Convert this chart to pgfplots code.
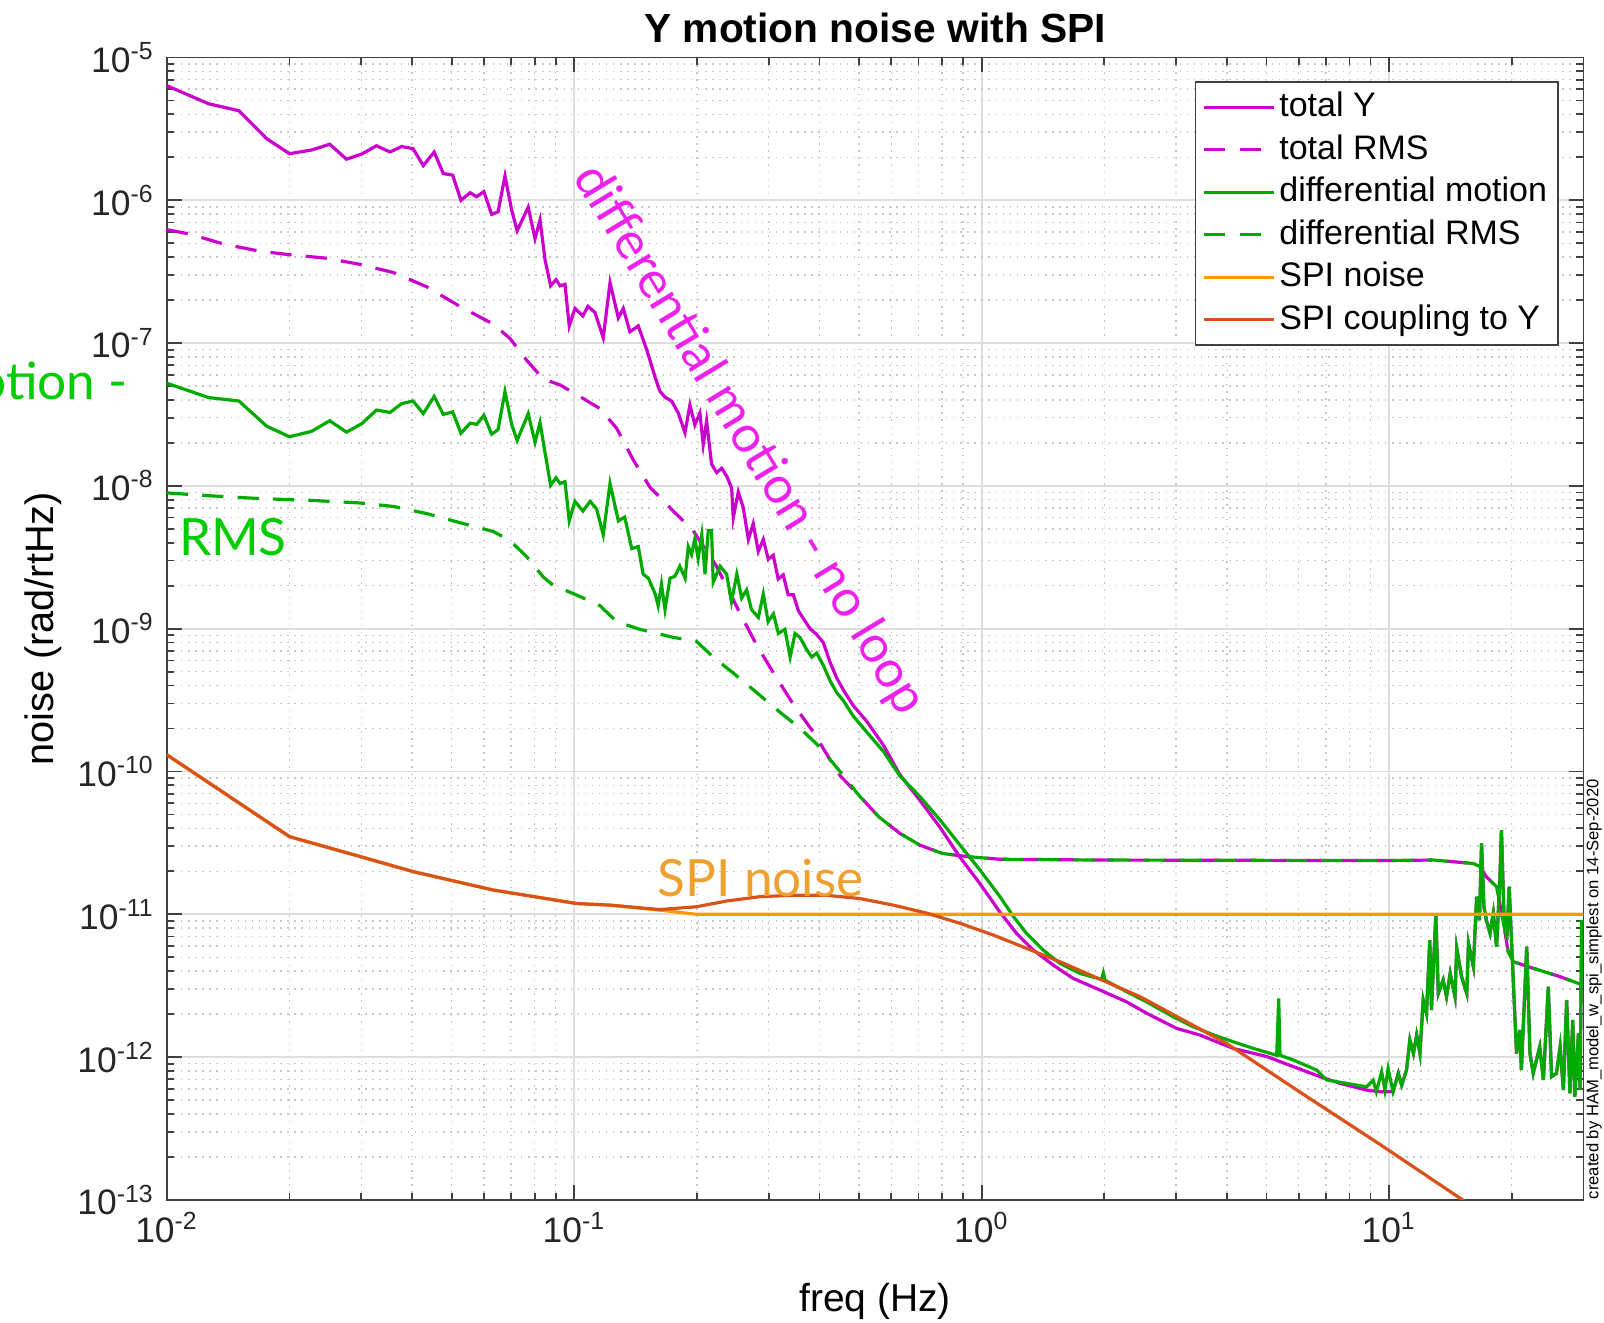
\documentclass[border=0pt]{standalone}
\usepackage{fontspec}
\setmainfont{Liberation Sans}
\newfontfamily\gill{Lato}
\usepackage{pgfplots}
\pgfplotsset{compat=1.18}

\definecolor{totc}{RGB}{204,0,204}
\definecolor{difc}{RGB}{0,170,0}
\definecolor{spin}{RGB}{255,153,0}
\definecolor{spic}{RGB}{217,83,25}
\definecolor{annm}{RGB}{236,34,236}
\definecolor{anng}{RGB}{0,204,0}
\definecolor{anno}{RGB}{240,160,48}
\definecolor{axc}{RGB}{64,64,64}

\begin{document}
\begin{tikzpicture}
\begin{axis}[
  scale only axis, width=400pt, height=322.6pt,
  xmode=log, ymode=log, log basis x=10, log basis y=10,
  xmin=0.01, xmax=30, ymin=1e-13, ymax=1e-5,
  xtick={0.01,0.1,1,10},
  xticklabels={10\textsuperscript{-2},10\textsuperscript{-1},10\textsuperscript{0},10\textsuperscript{1}},
  ytick={1e-13,1e-12,1e-11,1e-10,1e-9,1e-8,1e-7,1e-6,1e-5},
  yticklabels={10\textsuperscript{-13},10\textsuperscript{-12},10\textsuperscript{-11},10\textsuperscript{-10},10\textsuperscript{-9},10\textsuperscript{-8},10\textsuperscript{-7},10\textsuperscript{-6},10\textsuperscript{-5}},
  minor xtick={0.02,0.03,0.04,0.05,0.06,0.07,0.08,0.09,0.2,0.3,0.4,0.5,0.6,0.7,0.8,0.9,2,3,4,5,6,7,8,9,20,30},
  minor ytick={2e-13,3e-13,4e-13,5e-13,6e-13,7e-13,8e-13,9e-13,
    2e-12,3e-12,4e-12,5e-12,6e-12,7e-12,8e-12,9e-12,
    2e-11,3e-11,4e-11,5e-11,6e-11,7e-11,8e-11,9e-11,
    2e-10,3e-10,4e-10,5e-10,6e-10,7e-10,8e-10,9e-10,
    2e-9,3e-9,4e-9,5e-9,6e-9,7e-9,8e-9,9e-9,
    2e-8,3e-8,4e-8,5e-8,6e-8,7e-8,8e-8,9e-8,
    2e-7,3e-7,4e-7,5e-7,6e-7,7e-7,8e-7,9e-7,
    2e-6,3e-6,4e-6,5e-6,6e-6,7e-6,8e-6,9e-6},
  grid=both,
  major grid style={color=black!13, line width=0.5pt},
  minor grid style={color=black!22, line width=0.4pt, dash pattern=on 0.4pt off 1.6pt},
  tick align=inside, major tick length=4.2pt, minor tick length=2.1pt,
  axis line style={color=axc, line width=0.5pt},
  tick style={color=axc, line width=0.5pt},
  ticklabel style={font=\fontsize{10}{12}\selectfont, text=black!85},
  clip mode=individual,
  every axis plot/.append style={line width=0.9pt},
  legend cell align=left,
  legend image code/.code={\draw[#1] (0pt,0pt) -- (19.7pt,0pt);},
  legend style={at={(1,1)}, anchor=north east, xshift=-6.9pt, yshift=-6.6pt,
    draw=axc, line width=0.5pt, fill=white,
    font=\fontsize{9.6}{11}\selectfont,
    inner xsep=2pt, inner ysep=1.2pt, row sep=0pt,
    nodes={inner sep=1.1pt, text height=7.6pt, text depth=2.2pt}},
]
% total Y
\addplot[totc] coordinates {
(0.01,6.35e-6) (0.01264,4.75e-6) (0.01503,4.24e-6) (0.01758,2.70e-6) (0.0200,2.12e-6)
(0.02265,2.25e-6) (0.0251,2.47e-6) (0.0276,1.94e-6) (0.0301,2.11e-6) (0.0327,2.41e-6)
(0.0353,2.18e-6) (0.0377,2.38e-6) (0.0402,2.30e-6) (0.0426,1.75e-6) (0.0453,2.18e-6)
(0.0477,1.54e-6) (0.0503,1.50e-6) (0.0527,1.00e-6) (0.0555,1.13e-6) (0.0576,1.06e-6)
(0.0600,1.15e-6) (0.0627,7.97e-7) (0.0650,8.30e-7) (0.0676,1.48e-6) (0.0702,8.55e-7)
(0.0724,6.12e-7) (0.0771,8.95e-7) (0.0801,5.39e-7) (0.0824,7.28e-7) (0.0848,3.82e-7)
(0.0875,2.52e-7) (0.0902,2.78e-7) (0.0923,2.52e-7) (0.0949,2.58e-7) (0.0972,1.32e-7)
(0.1004,1.75e-7) (0.105,1.55e-7) (0.108,1.81e-7) (0.1124,1.64e-7) (0.1178,1.09e-7)
(0.1224,2.65e-7) (0.1283,1.50e-7) (0.1319,1.75e-7) (0.137,1.20e-7) (0.1436,1.32e-7)
(0.1506,9.0e-8) (0.158,5.75e-8) (0.1622,4.61e-8) (0.167,4.18e-8) (0.1734,3.93e-8)
(0.18,3.24e-8) (0.187,2.36e-8) (0.1923,3.69e-8) (0.1978,2.68e-8) (0.2034,3.24e-8)
(0.2073,1.95e-8) (0.2113,2.85e-8) (0.2173,1.42e-8) (0.2237,1.24e-8) (0.2301,1.33e-8)
(0.2367,1.17e-8) (0.2434,9.66e-9) (0.2456,5.98e-9) (0.2527,9.06e-9) (0.26,7.02e-9)
(0.2675,4.22e-9) (0.275,5.44e-9) (0.2829,3.48e-9) (0.2911,4.22e-9) (0.2994,3.07e-9)
(0.3079,3.27e-9) (0.3167,2.23e-9) (0.3258,2.38e-9) (0.335,1.73e-9) (0.345,1.73e-9)
(0.3548,1.34e-9) (0.3649,1.18e-9) (0.3793,1.0e-9) (0.3937,9.1e-10) (0.4086,8.0e-10)
(0.4243,5.85e-10) (0.4406,4.53e-10) (0.4573,3.74e-10) (0.4838,2.9e-10) (0.522,2.25e-10)
(0.574,1.53e-10) (0.630,9.5e-11) (0.705,6.3e-11) (0.789,4.1e-11) (0.883,2.53e-11)
(0.989,1.65e-11) (1.108,1.04e-11) (1.218,7.36e-12) (1.339,5.62e-12) (1.499,4.41e-12)
(1.678,3.56e-12) (1.952,2.95e-12) (2.268,2.44e-12) (2.54,2.03e-12) (3.01,1.59e-12)
(3.43,1.43e-12) (4.15,1.15e-12) (5.01,1.01e-12) (5.83,8.57e-13) (6.77,7.3e-13)
(7.58,6.55e-13) (8.81,5.88e-13) (9.5,5.73e-13) (10.23,5.73e-13)
(10.54,7.7e-13) (10.74,6.37e-13) (11.04,8.13e-13) (11.25,1.32e-12) (11.48,1.06e-12)
(11.69,1.43e-12) (11.91,1.06e-12) (12.13,2.51e-12) (12.36,2.02e-12) (12.59,6.6e-12)
(12.71,2.14e-12) (13.03,9.9e-12) (13.21,2.79e-12) (13.58,3.47e-12) (13.84,2.65e-12)
(14.13,3.86e-12) (14.52,2.65e-12) (14.66,5.78e-12) (15.07,3.66e-12) (15.52,2.79e-12)
(15.67,6.26e-12) (16.11,4.30e-12) (16.41,1.33e-11) (16.67,9.1e-12) (16.87,3.14e-11)
(17.10,1.13e-11) (17.34,9.1e-12) (17.70,7.36e-12) (18.03,1.02e-11) (18.37,5.93e-12)
(18.71,1.74e-11) (18.88,3.89e-11) (19.14,1.02e-11) (19.45,6.6e-12) (19.72,1.56e-11)
(20.18,3.47e-12) (20.56,1.06e-12) (20.94,1.55e-12) (21.13,8.13e-13) (21.78,5.93e-12)
(22.18,1.06e-12) (22.59,7.7e-13) (23.44,1.18e-12) (23.93,6.92e-13) (24.60,3.11e-12)
(25.06,7.3e-13) (25.76,7.7e-13) (26.30,1.18e-12) (26.79,5.89e-13) (27.29,2.51e-12)
(27.80,5.57e-13) (28.25,1.82e-12) (28.58,5.28e-13) (29.17,1.47e-12) (29.44,5.89e-13)
(29.72,9.1e-12)
};
% total RMS
\addplot[totc, dash pattern=on 6pt off 4pt] coordinates {
(0.01,6.23e-7) (0.0114,5.8e-7) (0.01377,4.94e-7) (0.01694,4.4e-7) (0.02,4.16e-7)
(0.02466,3.93e-7) (0.02979,3.56e-7) (0.03597,3.12e-7) (0.04345,2.48e-7) (0.05236,1.81e-7)
(0.06324,1.36e-7) (0.0695,1.08e-7) (0.07638,7.6e-8) (0.08395,5.6e-8) (0.09226,5.1e-8)
(0.1033,4.22e-8) (0.1156,3.48e-8) (0.1271,2.53e-8) (0.1396,1.52e-8) (0.1535,9.76e-9)
(0.175,6.67e-9) (0.1959,4.85e-9) (0.2234,2.74e-9) (0.2553,1.28e-9) (0.2805,7.66e-10)
(0.3083,4.9e-10) (0.3451,2.95e-10) (0.3864,1.89e-10) (0.4246,1.21e-10) (0.4487,9.4e-11)
(0.5,6.8e-11) (0.56,4.8e-11) (0.63,3.69e-11) (0.706,3.05e-11) (0.80,2.67e-11)
(0.918,2.54e-11) (1.11,2.43e-11) (1.95,2.4e-11) (9.5,2.38e-11) (12.86,2.4e-11)
(16.11,2.27e-11) (16.71,2.16e-11) (17.34,1.83e-11) (18.37,1.56e-11) (19.2,8e-12)
(19.6,5.5e-12) (20.18,4.66e-12) (22.59,4.19e-12) (26.3,3.66e-12) (29.44,3.25e-12)
(30,3.2e-12)
};
% differential motion
\addplot[difc] coordinates {
(0.01,5.24e-8) (0.01264,4.16e-8) (0.01503,3.93e-8) (0.01758,2.62e-8) (0.0200,2.21e-8)
(0.02265,2.41e-8) (0.0251,2.86e-8) (0.0276,2.38e-8) (0.0301,2.73e-8) (0.0327,3.40e-8)
(0.0353,3.27e-8) (0.0377,3.77e-8) (0.0402,3.93e-8) (0.0426,3.21e-8) (0.0453,4.23e-8)
(0.0477,3.17e-8) (0.0503,3.30e-8) (0.0527,2.34e-8) (0.0555,2.75e-8) (0.0576,2.70e-8)
(0.0600,3.12e-8) (0.0627,2.30e-8) (0.0650,2.48e-8) (0.0676,4.58e-8) (0.0702,2.70e-8)
(0.0724,2.08e-8) (0.0771,3.21e-8) (0.0801,2.02e-8) (0.0824,2.78e-8) (0.0848,1.70e-8)
(0.0875,1.01e-8) (0.0902,1.14e-8) (0.0923,1.04e-8) (0.0949,1.07e-8) (0.0972,5.7e-9)
(0.1004,7.8e-9) (0.105,6.67e-9) (0.1094,7.8e-9) (0.1135,6.88e-9) (0.1178,4.55e-9)
(0.1224,1.04e-8) (0.1283,5.69e-9) (0.133,6.05e-9) (0.1384,3.64e-9) (0.1436,3.76e-9)
(0.1476,2.41e-9) (0.152,2.26e-9) (0.158,1.75e-9) (0.1607,1.45e-9) (0.1637,2.05e-9)
(0.167,1.36e-9) (0.1718,2.26e-9) (0.1766,2.33e-9) (0.1816,2.74e-9) (0.1871,2.26e-9)
(0.1905,3.76e-9) (0.1941,3.31e-9) (0.1977,4.27e-9) (0.2014,3.1e-9) (0.2056,4.55e-9)
(0.2094,2.41e-9) (0.2133,4.85e-9) (0.2173,4.85e-9) (0.2193,2.12e-9) (0.228,2.74e-9)
(0.2366,2.41e-9) (0.2432,1.54e-9) (0.2506,2.41e-9) (0.2576,1.64e-9) (0.2649,1.87e-9)
(0.2723,1.36e-9) (0.2831,1.2e-9) (0.2911,1.75e-9) (0.2992,1.12e-9) (0.3083,1.27e-9)
(0.317,9.27e-10) (0.3289,9.9e-10) (0.3388,6.33e-10) (0.3483,9.27e-10) (0.3581,8.7e-10)
(0.3715,7.2e-10) (0.3828,6.33e-10) (0.3936,6.75e-10) (0.4083,5.57e-10) (0.4246,4.32e-10)
(0.4406,3.57e-10) (0.4571,3.15e-10) (0.4842,2.44e-10) (0.5224,1.89e-10) (0.5741,1.38e-10)
(0.630,9.3e-11) (0.706,6.67e-11) (0.791,4.57e-11) (0.885,3.05e-11) (0.991,2.04e-11)
(1.109,1.33e-11) (1.197,9.64e-12) (1.288,7.36e-12) (1.416,5.62e-12) (1.556,4.54e-12)
(1.742,3.86e-12) (1.97,3.5e-12) (1.99,3.9e-12) (2.01,3.45e-12) (2.27,2.87e-12)
(2.54,2.44e-12) (2.95,1.92e-12) (3.31,1.63e-12) (3.71,1.43e-12) (4.15,1.28e-12)
(4.65,1.15e-12) (5.30,1.03e-12) (5.36,2.58e-12) (5.40,1.03e-12) (5.82,9.55e-13)
(6.64,8.13e-13) (7.03,6.92e-13) (7.87,6.55e-13) (8.81,6.2e-13) (9.14,6.9e-13)
(9.31,5.73e-13) (9.59,7.9e-13) (9.77,5.87e-13) (9.95,8.3e-13) (10.23,5.73e-13)
(10.54,7.7e-13) (10.74,6.37e-13) (11.04,8.13e-13) (11.25,1.32e-12) (11.48,1.06e-12)
(11.69,1.43e-12) (11.91,1.06e-12) (12.13,2.51e-12) (12.36,2.02e-12) (12.59,6.6e-12)
(12.71,2.14e-12) (13.03,9.9e-12) (13.21,2.79e-12) (13.58,3.47e-12) (13.84,2.65e-12)
(14.13,3.86e-12) (14.52,2.65e-12) (14.66,5.78e-12) (15.07,3.66e-12) (15.52,2.79e-12)
(15.67,6.26e-12) (16.11,4.30e-12) (16.41,1.33e-11) (16.67,9.1e-12) (16.87,3.14e-11)
(17.10,1.13e-11) (17.34,9.1e-12) (17.70,7.36e-12) (18.03,1.02e-11) (18.37,5.93e-12)
(18.71,1.74e-11) (18.88,3.89e-11) (19.14,1.02e-11) (19.45,6.6e-12) (19.72,1.56e-11)
(20.18,3.47e-12) (20.56,1.06e-12) (20.94,1.55e-12) (21.13,8.13e-13) (21.78,5.93e-12)
(22.18,1.06e-12) (22.59,7.7e-13) (23.44,1.18e-12) (23.93,6.92e-13) (24.60,3.11e-12)
(25.06,7.3e-13) (25.76,7.7e-13) (26.30,1.18e-12) (26.79,5.89e-13) (27.29,2.51e-12)
(27.80,5.57e-13) (28.25,1.82e-12) (28.58,5.28e-13) (29.17,1.47e-12) (29.44,5.89e-13)
(29.72,9.1e-12)
};
% differential RMS
\addplot[difc, dash pattern=on 6pt off 4pt] coordinates {
(0.01,8.93e-9) (0.01277,8.53e-9) (0.01694,8.15e-9) (0.02244,7.93e-9) (0.02979,7.6e-9)
(0.03597,7.18e-9) (0.04345,6.4e-9) (0.05236,5.53e-9) (0.06324,4.8e-9) (0.0695,4.15e-9)
(0.07638,3.2e-9) (0.08395,2.3e-9) (0.08872,2.02e-9) (0.1014,1.72e-9) (0.1156,1.45e-9)
(0.1271,1.12e-9) (0.1449,9.9e-10) (0.175,8.7e-10) (0.1995,8.17e-10) (0.2193,6.33e-10)
(0.2455,4.9e-10) (0.2805,3.57e-10) (0.3199,2.6e-10) (0.3581,2.01e-10) (0.3936,1.56e-10)
(0.4325,1.14e-10) (0.4571,9.4e-11)
(0.5,6.8e-11) (0.56,4.8e-11) (0.63,3.69e-11) (0.706,3.05e-11) (0.80,2.67e-11)
(0.918,2.54e-11) (1.11,2.43e-11) (1.95,2.4e-11) (9.5,2.38e-11) (12.86,2.4e-11)
(16.11,2.27e-11) (16.71,2.16e-11) (17.34,1.83e-11) (18.37,1.56e-11) (19.2,8e-12)
(19.6,5.5e-12) (20.18,4.66e-12) (22.59,4.19e-12) (26.3,3.66e-12) (29.44,3.25e-12)
(30,3.2e-12)
};
% SPI noise
\addplot[spin] coordinates {
(0.01,1.31e-10) (0.02,3.5e-11) (0.02979,2.54e-11) (0.04027,1.99e-11) (0.06324,1.48e-11)
(0.1014,1.19e-11) (0.1225,1.16e-11) (0.1622,1.07e-11) (0.2,1e-11) (30,1e-11)
};
% SPI coupling to Y
\addplot[spic] coordinates {
(0.01,1.31e-10) (0.02,3.5e-11) (0.02979,2.54e-11) (0.04027,1.99e-11) (0.06324,1.48e-11)
(0.1014,1.19e-11) (0.1225,1.16e-11) (0.1622,1.08e-11) (0.1995,1.13e-11) (0.2366,1.24e-11)
(0.2858,1.33e-11) (0.3451,1.36e-11) (0.4159,1.36e-11) (0.5023,1.29e-11) (0.6067,1.16e-11)
(0.7328,1.02e-11) (0.8851,8.65e-12) (1.069,7.16e-12) (1.288,5.78e-12) (1.556,4.66e-12)
(2.449,2.65e-12) (3.99,1.25e-12) (6.04,5.7e-13) (9.5,2.45e-13) (14.93,1.03e-13)
(30,2.8e-14)
};
\legend{total Y, total RMS, differential motion, differential RMS, SPI noise, SPI coupling to Y}

\node[font=\gill\fontsize{14.5}{16}\selectfont, text=annm, rotate=-58.8, inner sep=0pt] at (axis cs:0.2686,2.09e-8) {differential motion - no loop};
\node[font=\gill\fontsize{14.5}{16}\selectfont, text=anno, inner sep=0pt] at (axis cs:0.287,1.8e-11) {SPI noise};
\node[font=\gill\fontsize{14.5}{16}\selectfont, text=anng, inner sep=0pt] at (axis cs:0.01452,4.39e-9) {RMS};
\node[font=\gill\fontsize{14.5}{16}\selectfont, text=anng, inner sep=0pt, anchor=east, overlay] at (axis cs:0.00805,5.46e-8) {differential motion -};

\coordinate (sw) at (rel axis cs:0,0);
\coordinate (ne) at (rel axis cs:1,1);
\coordinate (br) at (rel axis cs:1,0);
\coordinate (ml) at (rel axis cs:0,0.5);
\coordinate (bm) at (rel axis cs:0.5,0);
\coordinate (tm) at (rel axis cs:0.5,1);
\end{axis}
\node[rotate=90, anchor=base, font=\fontsize{11.2}{13}\selectfont] at ([xshift=-32.1pt]ml) {noise (rad/rtHz)};
\node[anchor=base, font=\fontsize{11}{13}\selectfont] at ([yshift=-31.5pt]bm) {freq (Hz)};
\node[anchor=base, font=\bfseries\fontsize{11.5}{13}\selectfont] at ([yshift=4.1pt]tm) {Y motion noise with SPI};
\node[rotate=90, anchor=west, inner sep=0pt, font=\fontsize{4.7}{5.5}\selectfont] at ([xshift=3pt]br) {created by HAM\_model\_w\_spi\_simplest on 14-Sep-2020};
\pgfresetboundingbox
\path[use as bounding box] ([shift={(-47.13pt,-34.48pt)}]sw) rectangle ([shift={(5.82pt,16.24pt)}]ne);
\end{tikzpicture}
\end{document}
